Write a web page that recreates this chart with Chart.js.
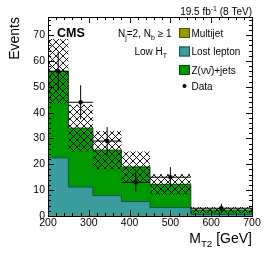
<!DOCTYPE html>
<html>
<head>
<meta charset="utf-8">
<script src="https://cdn.jsdelivr.net/npm/chart.js@4.4.0/dist/chart.umd.min.js"></script>
<style>
  html, body { margin: 0; padding: 0; background: #fff; }
  #chart { display: block; }
</style>
</head>
<body>
<canvas id="chart" width="266" height="255"></canvas>
<script>
// MT2 bins (GeV), variable width
const binEdges = [200, 250, 310, 380, 450, 550, 700];
const binCenters = [225, 280, 345, 415, 500, 625];

// background predictions per bin
const multijet = [0.2, 0.1, 0.1, 0.1, 0.05, 0.02];
const lostLepton = [22.3, 11.1, 7.8, 5.5, 3.2, 0.6];
const zInv = [33.5, 22.8, 17.6, 13.4, 9.0, 1.7];
const bkgErr = [12.5, 9.0, 7.4, 6.0, 3.9, 1.2];

// observed data
const dataCounts = [56, 44, 29, 13, 15, 3];
const dataErr = [7.5, 6.6, 5.4, 3.6, 3.9, 1.7];

const xTicks = [200, 300, 400, 500, 600, 700];
const yTicks = [0, 10, 20, 30, 40, 50, 60, 70];

const FONT = '"Liberation Sans", Arial, Helvetica, sans-serif';

// stack sums
const stackMJ = multijet.slice();
const stackLL = lostLepton.map((v, i) => v + stackMJ[i]);
const stackZ = zInv.map((v, i) => v + stackLL[i]);
const bandHi = stackZ.map((v, i) => v + bkgErr[i]);
const bandLo = stackZ.map((v, i) => Math.max(0, v - bkgErr[i]));

function stepPoints(vals) {
    const pts = vals.map((v, i) => ({ x: binEdges[i], y: v }));
    pts.push({ x: binEdges[binEdges.length - 1], y: vals[vals.length - 1] });
    return pts;
}

function makeHatch() {
    const s = 7;
    const c = document.createElement('canvas');
    c.width = s; c.height = s;
    const g = c.getContext('2d');
    g.strokeStyle = '#000';
    g.lineWidth = 0.9;
    g.beginPath();
    g.moveTo(-1, -1); g.lineTo(s + 1, s + 1);
    g.moveTo(-1, s + 1); g.lineTo(s + 1, -1);
    g.stroke();
    return g.createPattern(c, 'repeat');
}

// text made of runs: [text, sizeFactor, yShift]
function drawRuns(ctx, runs, x, y, size, align, weight) {
    const fontOf = r => `${weight || ''} ${Math.round(size * r[1] * 10) / 10}px ${FONT}`;
    let w = 0;
    runs.forEach(r => { ctx.font = fontOf(r); w += ctx.measureText(r[0]).width; });
    let cx = align === 'right' ? x - w : (align === 'center' ? x - w / 2 : x);
    ctx.textAlign = 'left';
    ctx.textBaseline = 'alphabetic';
    runs.forEach(r => {
        ctx.font = fontOf(r);
        ctx.fillText(r[0], cx, y + r[2] * size);
        cx += ctx.measureText(r[0]).width;
    });
}

// horizontal first, then vertical at the next bin edge
const stepLine = {
    stepped: 'before',
    pointRadius: 0,
    borderWidth: 1,
    tension: 0
};

const overlay = {
    id: 'overlay',
    afterDraw(chart) {
        const ctx = chart.ctx;
        const a = chart.chartArea;
        const xs = chart.scales.x;
        const ys = chart.scales.y;
        ctx.save();

        // data points with error bars
        ctx.strokeStyle = '#000';
        ctx.fillStyle = '#000';
        ctx.lineWidth = 1;
        dataCounts.forEach((n, i) => {
            const px = xs.getPixelForValue(binCenters[i]);
            const py = ys.getPixelForValue(n);
            ctx.beginPath();
            ctx.moveTo(xs.getPixelForValue(binEdges[i]), py);
            ctx.lineTo(xs.getPixelForValue(binEdges[i + 1]), py);
            ctx.moveTo(px, ys.getPixelForValue(n + dataErr[i]));
            ctx.lineTo(px, ys.getPixelForValue(n - dataErr[i]));
            ctx.stroke();
            ctx.beginPath();
            ctx.arc(px, py, 2.2, 0, Math.PI * 2);
            ctx.fill();
        });

        // frame
        ctx.lineWidth = 1;
        ctx.strokeRect(Math.round(a.left) + 0.5, Math.round(a.top) + 0.5,
            Math.round(a.right - a.left), Math.round(a.bottom - a.top));

        // ticks pointing inwards on all four sides
        ctx.beginPath();
        for (let v = 200; v <= 700; v += 20) {
            const px = Math.round(xs.getPixelForValue(v)) + 0.5;
            const len = v % 100 === 0 ? 6 : 3;
            ctx.moveTo(px, a.bottom); ctx.lineTo(px, a.bottom - len);
            ctx.moveTo(px, a.top); ctx.lineTo(px, a.top + len);
        }
        for (let v = 0; v <= 76; v += 2) {
            const py = Math.round(ys.getPixelForValue(v)) + 0.5;
            const len = v % 10 === 0 ? 6 : 3;
            ctx.moveTo(a.left, py); ctx.lineTo(a.left + len, py);
            ctx.moveTo(a.right, py); ctx.lineTo(a.right - len, py);
        }
        ctx.stroke();

        // labels
        ctx.fillStyle = '#000';
        drawRuns(ctx, [['CMS', 1, 0]], 57, 36.5, 12.5, 'left', 'bold');
        drawRuns(ctx, [['N', 1, 0], ['j', 0.7, 0.3], ['=2, N', 1, 0], ['b', 0.7, 0.3], [' \u2265 1', 1, 0]],
            118, 37, 10, 'left');
        drawRuns(ctx, [['Low H', 1, 0], ['T', 0.7, 0.3]], 167, 55, 10, 'right');
        drawRuns(ctx, [['19.5 fb', 1, 0], ['-1', 0.7, -0.4], [' (8 TeV)', 1, 0]], 252, 14.5, 10, 'right');
        drawRuns(ctx, [['M', 1, 0], ['T2', 0.7, 0.3], [' [GeV]', 1, 0]], 252, 243, 14, 'right');

        ctx.save();
        ctx.translate(19, 17);
        ctx.rotate(-Math.PI / 2);
        drawRuns(ctx, [['Events', 1, 0]], 0, 0, 14, 'right');
        ctx.restore();

        // legend
        const legend = [
            ['box', '#999900', '#4d4d00', 'Multijet'],
            ['box', '#3a9c9c', '#1d4e4e', 'Lost lepton'],
            ['box', '#009900', '#004d00', 'Z(\u03bd\u03bd\u0304)+jets'],
            ['dot', '#000', '#000', 'Data']
        ];
        const rowsY = [33, 51.5, 70, 86];
        legend.forEach((e, i) => {
            const cy = rowsY[i];
            if (e[0] === 'box') {
                ctx.fillStyle = e[1];
                ctx.fillRect(179, cy - 5, 11, 10);
                ctx.strokeStyle = e[2];
                ctx.lineWidth = 1;
                ctx.strokeRect(179.5, cy - 4.5, 10, 9);
            } else {
                ctx.fillStyle = '#000';
                ctx.beginPath();
                ctx.arc(184.5, cy, 2, 0, Math.PI * 2);
                ctx.fill();
            }
            ctx.fillStyle = '#000';
            drawRuns(ctx, [[e[3], 1, 0]], 191.5, cy + 3.6, 10, 'left');
        });

        ctx.restore();
    }
};

const hatch = makeHatch();

new Chart(document.getElementById('chart'), {
    type: 'line',
    data: {
        datasets: [
            { ...stepLine, label: 'unc hi', data: stepPoints(bandHi), fill: 1, backgroundColor: hatch, borderWidth: 0, order: 1 },
            { ...stepLine, label: 'unc lo', data: stepPoints(bandLo), fill: false, borderWidth: 0, order: 1 },
            { ...stepLine, label: 'Multijet', data: stepPoints(stackMJ), fill: 'origin', backgroundColor: '#999900', borderColor: '#4d4d00', borderWidth: 0, order: 3 },
            { ...stepLine, label: 'Lost lepton', data: stepPoints(stackLL), fill: 'origin', backgroundColor: '#3a9c9c', borderColor: '#1d4e4e', order: 4 },
            { ...stepLine, label: 'Z(vv)+jets', data: stepPoints(stackZ), fill: 'origin', backgroundColor: '#009900', borderColor: '#005500', order: 5 }
        ]
    },
    options: {
        responsive: false,
        animation: false,
        events: [],
        layout: { padding: { top: 17, right: 14, left: 0, bottom: 0 } },
        plugins: { legend: { display: false }, tooltip: { enabled: false }, title: { display: false } },
        scales: {
            x: {
                type: 'linear',
                min: 200,
                max: 700,
                grid: { display: false, drawTicks: false },
                border: { display: false },
                afterBuildTicks: s => { s.ticks = xTicks.map(v => ({ value: v })); },
                afterFit: s => { s.height = 39; },
                ticks: { color: '#000', font: { family: FONT, size: 10.5 }, padding: 1, maxRotation: 0, autoSkip: false }
            },
            y: {
                min: 0,
                max: 77,
                grid: { display: false, drawTicks: false },
                border: { display: false },
                afterBuildTicks: s => { s.ticks = yTicks.map(v => ({ value: v })); },
                afterFit: s => { s.width = 48; },
                ticks: { color: '#000', font: { family: FONT, size: 10.5 }, padding: 3 }
            }
        }
    },
    plugins: [overlay]
});
</script>
</body>
</html>
